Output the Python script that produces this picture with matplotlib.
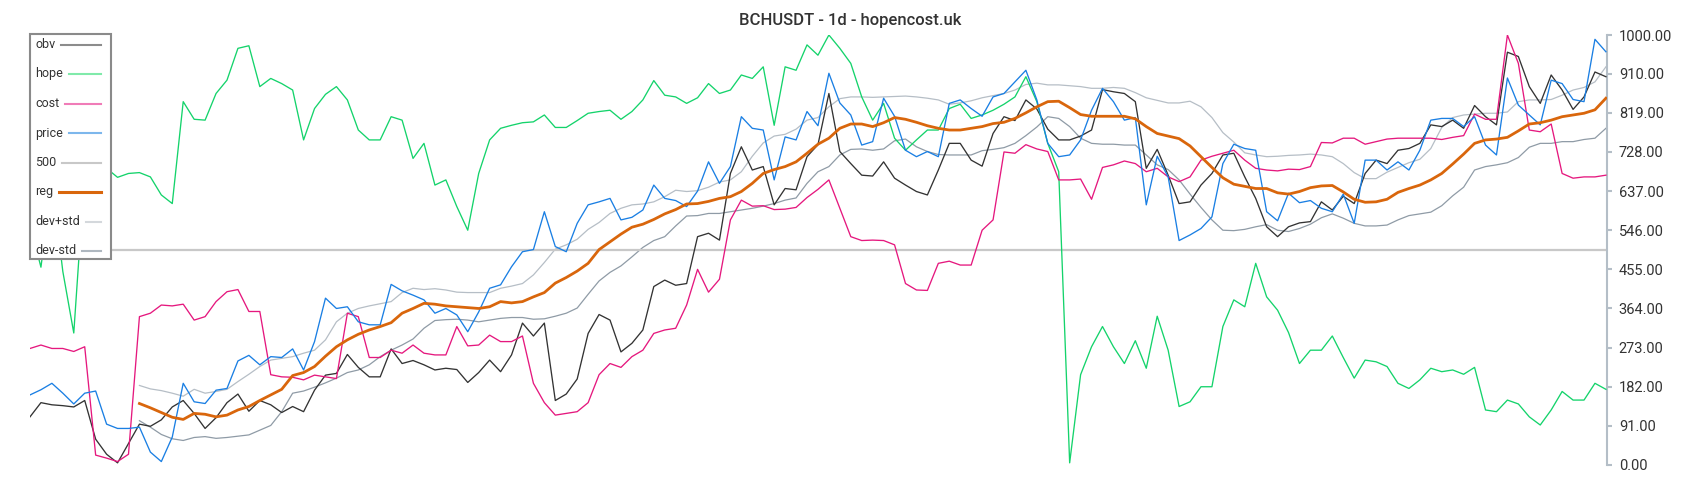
import numpy as np
import matplotlib
matplotlib.use('Agg')
import matplotlib.pyplot as plt
from matplotlib.lines import Line2D
from matplotlib.patches import Rectangle

plt.rcParams['font.family'] = ['Roboto', 'DejaVu Sans']

TITLE = 'BCHUSDT - 1d - hopencost.uk'

# one sample every 2 days
obv = [112, 145, 140, 138, 135, 150, 60, 25, 5, 50,
       95, 90, 105, 135, 150, 120, 85, 110, 145, 165,
       125, 150, 140, 122, 136, 124, 174, 209, 213, 257,
       227, 205, 205, 270, 236, 243, 233, 221, 225, 222,
       192, 215, 244, 217, 256, 330, 300, 330, 150, 165,
       200, 306, 350, 337, 263, 283, 314, 415, 430, 418,
       422, 531, 539, 523, 678, 740, 686, 694, 605, 643,
       640, 717, 745, 864, 729, 701, 674, 672, 705, 667,
       651, 636, 628, 686, 748, 748, 709, 695, 771, 810,
       801, 849, 828, 781, 756, 756, 765, 779, 873, 868,
       864, 845, 690, 734, 674, 608, 612, 651, 678, 721,
       725, 670, 620, 554, 531, 554, 563, 566, 612, 593,
       625, 608, 678, 709, 701, 732, 736, 748, 791, 787,
       802, 783, 836, 810, 791, 960, 950, 880, 841, 907,
       872, 827, 856, 914, 903]

hope = [560, 460, 660, 450, 307, 680, 690, 690, 669, 678,
        680, 670, 628, 608, 845, 804, 802, 864, 895, 969,
        975, 880, 899, 887, 872, 756, 829, 862, 880, 849,
        779, 756, 756, 810, 802, 713, 748, 651, 663, 601,
        546, 678, 756, 783, 790, 796, 798, 814, 785, 785,
        801, 818, 822, 825, 804, 822, 849, 894, 860, 856,
        841, 854, 887, 864, 872, 907, 899, 926, 790, 926,
        918, 977, 953, 1000, 969, 934, 856, 802, 841, 760,
        732, 756, 779, 779, 829, 839, 806, 814, 825, 839,
        856, 903, 845, 748, 682, 5, 210, 275, 322, 275,
        236, 289, 225, 346, 267, 136, 147, 182, 182, 322,
        384, 368, 469, 391, 360, 308, 236, 267, 267, 300,
        250, 202, 244, 240, 229, 190, 178, 198, 225, 217,
        221, 211, 227, 128, 124, 151, 142, 112, 93, 128,
        171, 151, 151, 190, 176]

cost = [271, 279, 271, 271, 264, 275, 23, 16, 8, 25,
        345, 353, 372, 370, 374, 337, 345, 380, 403, 408,
        357, 357, 210, 205, 204, 198, 209, 205, 201, 353,
        345, 250, 250, 267, 260, 279, 260, 256, 256, 322,
        277, 279, 302, 287, 287, 300, 190, 145, 116, 120,
        124, 145, 210, 236, 227, 252, 267, 306, 314, 318,
        372, 455, 402, 432, 570, 616, 602, 603, 594, 595,
        599, 622, 641, 663, 597, 531, 522, 523, 522, 512,
        422, 407, 406, 469, 474, 465, 465, 546, 570, 728,
        725, 745, 735, 729, 663, 663, 665, 618, 692, 698,
        707, 701, 682, 690, 670, 659, 670, 709, 718, 725,
        732, 709, 690, 686, 684, 688, 687, 694, 750, 749,
        760, 760, 746, 752, 758, 760, 760, 760, 760, 757,
        762, 766, 816, 804, 804, 1000, 934, 779, 775, 793,
        678, 667, 670, 670, 674]

price = [163, 175, 190, 167, 142, 167, 172, 95, 85, 85,
         88, 30, 8, 65, 190, 147, 143, 174, 178, 242,
         255, 233, 252, 250, 270, 221, 287, 388, 364, 368,
         333, 326, 326, 420, 405, 395, 384, 353, 364, 349,
         310, 356, 411, 419, 461, 496, 501, 589, 508, 496,
         562, 605, 612, 620, 570, 576, 593, 651, 620, 615,
         601, 637, 705, 655, 694, 810, 783, 779, 663, 763,
         756, 822, 789, 911, 842, 814, 744, 752, 853, 811,
         732, 717, 729, 717, 841, 849, 829, 811, 856, 864,
         891, 918, 849, 748, 717, 721, 756, 825, 876, 845,
         802, 808, 605, 718, 670, 522, 535, 550, 577, 701,
         746, 736, 732, 589, 568, 632, 610, 615, 597, 589,
         630, 562, 709, 709, 686, 705, 686, 732, 802, 806,
         806, 787, 810, 744, 721, 900, 837, 814, 791, 895,
         887, 850, 845, 990, 961]

LEVEL = 500

# regression channel starts on sample 10
BAND_START = 10
reg = [143, 133, 122, 111, 106, 120, 118, 112, 116, 128,
       136, 150, 163, 176, 208, 215, 229, 253, 275, 291,
       304, 314, 322, 331, 353, 364, 376, 374, 370, 368,
       366, 364, 368, 380, 377, 380, 391, 401, 423, 436,
       451, 469, 501, 519, 537, 553, 560, 571, 584, 594,
       607, 608, 613, 620, 624, 636, 655, 678, 687, 694,
       705, 725, 746, 760, 783, 793, 793, 787, 796, 808,
       804, 797, 789, 783, 779, 779, 783, 787, 794, 797,
       806, 819, 833, 845, 846, 831, 815, 811, 811, 811,
       811, 805, 787, 771, 765, 759, 742, 717, 692, 668,
       653, 648, 643, 643, 633, 630, 636, 645, 649, 650,
       635, 618, 611, 612, 618, 634, 643, 651, 663, 678,
       700, 723, 748, 756, 758, 762, 777, 793, 796, 802,
       810, 814, 818, 826, 853]

dev_hi = [185, 177, 173, 167, 160, 176, 167, 171, 176, 194,
          211, 229, 244, 248, 252, 260, 267, 291, 333, 353,
          364, 370, 375, 380, 401, 411, 408, 410, 407, 402,
          401, 401, 401, 411, 416, 422, 442, 471, 502, 512,
          525, 548, 564, 585, 597, 605, 607, 612, 624, 639,
          636, 638, 646, 658, 663, 682, 718, 749, 765, 769,
          781, 802, 808, 833, 852, 856, 856, 855, 856, 857,
          858, 856, 853, 849, 839, 842, 847, 854, 859, 864,
          872, 885, 888, 884, 884, 882, 880, 876, 876, 878,
          876, 866, 854, 848, 842, 842, 846, 833, 808, 773,
          751, 726, 721, 717, 718, 720, 721, 723, 721, 717,
          701, 680, 666, 666, 681, 692, 703, 711, 736, 785,
          808, 814, 816, 818, 818, 821, 845, 849, 849, 850,
          860, 872, 878, 891, 926]

dev_lo = [103, 88, 71, 61, 57, 64, 66, 62, 64, 67,
          70, 81, 92, 124, 167, 172, 181, 191, 202, 215,
          221, 233, 252, 267, 279, 293, 318, 336, 338, 339,
          337, 333, 337, 341, 343, 343, 339, 340, 346, 353,
          365, 397, 428, 448, 463, 484, 506, 522, 531, 556,
          579, 580, 585, 585, 589, 593, 597, 602, 608, 616,
          621, 655, 682, 694, 721, 734, 735, 732, 735, 754,
          758, 740, 729, 722, 721, 721, 721, 731, 734, 738,
          748, 766, 786, 810, 806, 787, 760, 748, 746, 746,
          744, 744, 721, 698, 687, 663, 630, 599, 570, 546,
          545, 548, 554, 559, 546, 543, 550, 560, 575, 584,
          574, 562, 556, 556, 558, 570, 580, 584, 588, 603,
          626, 646, 686, 694, 698, 703, 715, 739, 748, 748,
          752, 752, 757, 760, 783]

yticks = [0, 91, 182, 273, 364, 455, 546, 637, 728, 819, 910, 1000]

W, H = 1700, 500
fig = plt.figure(figsize=(W / 100, H / 100), dpi=100)
ax = fig.add_axes([30 / W, 35 / H, 1577 / W, 430 / H])

days = np.arange(len(obv)) * 2
band_days = days[BAND_START:]

ax.plot(band_days, dev_hi, color='#b6bec6', lw=0.9, zorder=2)
ax.plot(band_days, dev_lo, color='#8f9ba6', lw=0.9, zorder=2)
ax.axhline(LEVEL, color='#c8c8c8', lw=1.6, zorder=2)
ax.plot(days, obv, color='#333333', lw=0.95, zorder=3)
ax.plot(days, hope, color='#14d36b', lw=0.95, zorder=3)
ax.plot(days, cost, color='#e5187e', lw=0.95, zorder=3)
ax.plot(days, price, color='#1a7fe3', lw=0.95, zorder=3)
ax.plot(band_days, reg, color='#d9660c', lw=2.0, zorder=4)

ax.set_xlim(0, days[-1] + 0.2)
ax.set_ylim(0, 1000)
ax.set_yticks(yticks)
ax.set_yticklabels(['%.2f' % v for v in yticks])
ax.yaxis.tick_right()
ax.set_xticks([])
for side in ('left', 'top', 'bottom'):
    ax.spines[side].set_visible(False)
ax.spines['right'].set_color('#b4bec7')
ax.spines['right'].set_linewidth(1.5)
ax.tick_params(axis='y', colors='#b4bec7', labelcolor='#333333', length=3.5,
               width=1.5, pad=5, labelsize=10.5)
ax.patch.set_alpha(0)

fig.text(0.5, 1 - 20 / H, TITLE, ha='center', va='center', fontsize=12,
         color='#333333', fontweight='medium')

# legend box drawn by hand: labels left, samples flush right
def fx(x):
    return x / W


def fy(y):
    return 1 - y / H


names = ['obv', 'hope', 'cost', 'price', '500', 'reg', 'dev+std', 'dev-std']
swatch = ['#8c8c8c', '#80eaaa', '#f07cb8', '#7db7ec', '#c8c8c8', '#d9660c',
          '#d4d8dc', '#aeb7bf']
fig.add_artist(Rectangle((fx(30), fy(259)), fx(81), 225 / H, transform=fig.transFigure,
                         facecolor='white', edgecolor='#8a8a8a', lw=1.5, zorder=5))
renderer = fig.canvas.get_renderer()
for i, (name, c) in enumerate(zip(names, swatch)):
    yy = 44.5 + 29.5 * i
    t = fig.text(fx(35), fy(yy), name, ha='left', va='center', fontsize=9,
                 color='#333333', zorder=6)
    x1 = t.get_window_extent(renderer).x1 + 6
    fig.add_artist(Line2D([fx(x1), fx(101)], [fy(yy), fy(yy)], transform=fig.transFigure,
                          color=c, lw=2.2 if name == 'reg' else 1.5, zorder=6))

fig.savefig('out.png', dpi=100)
